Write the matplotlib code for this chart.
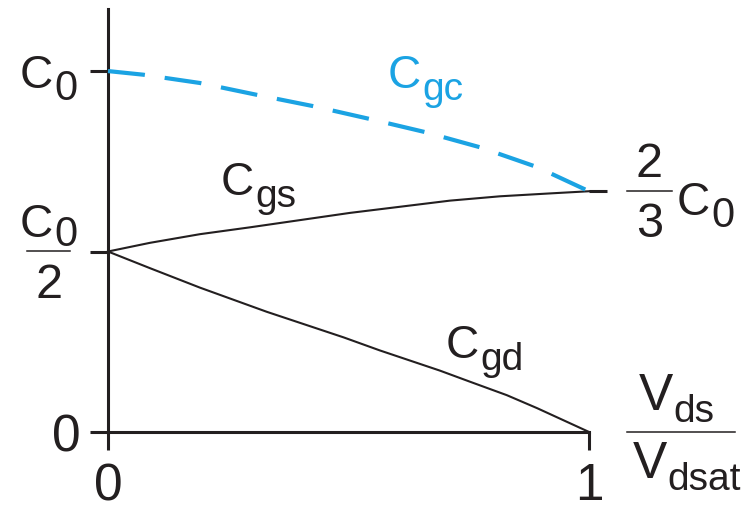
import matplotlib
matplotlib.use("Agg")
import matplotlib.pyplot as plt
import matplotlib.transforms as mtransforms
from matplotlib.lines import Line2D

plt.rcParams['font.family'] = ['Liberation Sans', 'DejaVu Sans']

# normalised drain voltage Vds/Vdsat and capacitances in units of C0
x_cgc = [0.0, 0.073, 0.191, 0.310, 0.426, 0.545, 0.659, 0.773, 0.892, 1.0]
cgc = [1.0, 0.990, 0.967, 0.934, 0.903, 0.867, 0.831, 0.789, 0.734, 0.667]

x_cgs = [0.0, 0.087, 0.191, 0.295, 0.399, 0.503, 0.607, 0.711, 0.815, 0.919, 1.0]
cgs = [0.5, 0.524, 0.548, 0.567, 0.587, 0.607, 0.624, 0.641, 0.653, 0.661, 0.667]

x_cgd = [0.0, 0.087, 0.191, 0.330, 0.490, 0.565, 0.690, 0.753, 0.829, 0.892, 1.0]
cgd = [0.5, 0.454, 0.400, 0.333, 0.262, 0.226, 0.170, 0.139, 0.102, 0.066, 0.0]

x_ticks = [0, 1]
x_ticklabels = ['0', '1']
y_ticks = [0, 0.5, 1]
y_sat = 2 / 3

INK = '#231f20'
BLUE = '#1ba3e3'
W, H = 755, 510

fig = plt.figure(figsize=(W / 100, H / 100), dpi=100)
# pixel coordinates measured from the top-left corner
px = mtransforms.Affine2D().scale(1 / W, -1 / H).translate(0, 1) + fig.transFigure

ax = fig.add_axes([90 / W, (H - 451) / H, (589 - 90) / W, (451 - 10) / H])
ax.set_xlim(-0.0374, 1.0)
ax.set_ylim(-0.05, 1.172)
ax.patch.set_visible(False)

ax.plot(x_cgc, cgc, color=BLUE, lw=3, linestyle=(0, (8.9, 4.8)), clip_on=False, zorder=3)
ax.plot(x_cgs, cgs, color=INK, lw=1.5, clip_on=False)
ax.plot(x_cgd, cgd, color=INK, lw=1.5, clip_on=False)

for side in ['top', 'right']:
    ax.spines[side].set_visible(False)
ax.spines['left'].set_position(('data', 0))
ax.spines['bottom'].set_position(('data', 0))
ax.spines['left'].set_bounds(0, 1.172)
ax.spines['bottom'].set_bounds(0, 1)
for side in ['left', 'bottom']:
    ax.spines[side].set_linewidth(2.2)
    ax.spines[side].set_color(INK)

ax.set_xticks(x_ticks, x_ticklabels)
ax.set_yticks(y_ticks, ['0', '', ''])
ax.tick_params(axis='both', direction='out', length=13, width=2.2, color=INK,
               labelcolor=INK, labelsize=37)
ax.tick_params(axis='x', pad=8)
ax.tick_params(axis='y', pad=7)

# tick on the right at the saturation value
sec = ax.secondary_yaxis('right')
sec.spines['right'].set_visible(False)
sec.set_yticks([y_sat], [''])
sec.tick_params(direction='out', length=13, width=2.2, color=INK)


def sub_label(x, y, main, sub, color=INK, size=33, subsize=28, dx=1, dy=-1.5):
    t = fig.text(x, y, main, transform=px, fontsize=size, color=color,
                 ha='left', va='baseline')
    ax.annotate(sub, xy=(1, 0), xycoords=t, xytext=(dx, dy),
                textcoords='offset points', fontsize=subsize, color=color,
                ha='left', va='baseline', annotation_clip=False)
    return t


def bar(x0, x1, y):
    fig.add_artist(Line2D([x0, x1], [y, y], transform=px, color=INK, lw=1.1))


# left axis labels
sub_label(20, 88, 'C', '0', subsize=30)
sub_label(20, 237, 'C', '0', subsize=30, dy=0.5)
bar(27, 70, 252)
fig.text(49, 298, '2', transform=px, fontsize=35, color=INK, ha='center', va='baseline')

# right-hand level 2/3 C0
fig.text(649, 177, '2', transform=px, fontsize=35, color=INK, ha='center', va='baseline')
bar(627, 672, 192)
fig.text(650, 237, '3', transform=px, fontsize=35, color=INK, ha='center', va='baseline')
sub_label(677, 215, 'C', '0', subsize=30)

# x axis quantity Vds/Vdsat
sub_label(639, 410, 'V', 'ds', size=37, dx=0, dy=-1)
bar(627, 735, 433)
sub_label(633, 478, 'V', 'dsat', size=37, dx=0, dy=-0.5)

# curve labels
sub_label(388, 88, 'C', 'gc', color=BLUE)
sub_label(221, 195, 'C', 'gs')
sub_label(446, 358, 'C', 'gd')

fig.savefig('out.png', dpi=100)
